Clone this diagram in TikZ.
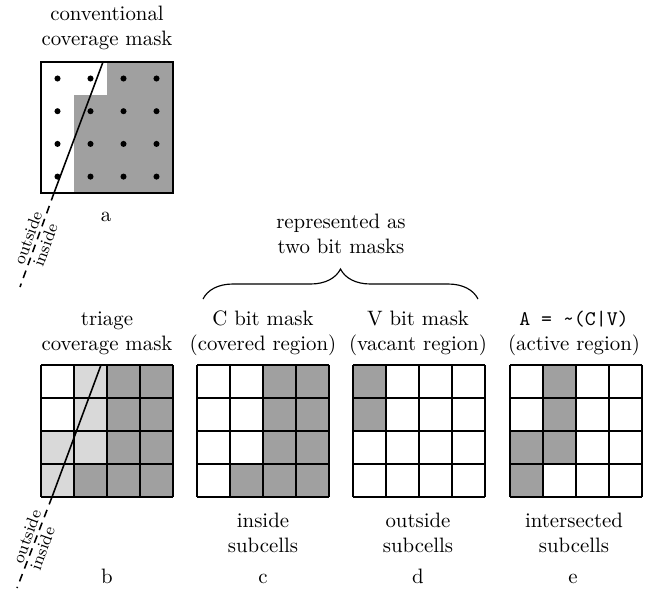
\documentclass[tikz,border=0pt]{standalone}
\usepackage{fontspec}
\usetikzlibrary{decorations.pathreplacing}
\definecolor{darkcell}{RGB}{160,160,160}
\definecolor{lightcell}{RGB}{217,217,217}
\tikzset{
  gridline/.style={line width=0.95pt},
  edgeline/.style={line width=0.75pt},
  edgedash/.style={line width=0.75pt, dash pattern=on 3.8pt off 2.8pt},
  lbl/.style={align=center, inner sep=0pt},
  sidelbl/.style={inner sep=1.5pt, rotate=70, font=\footnotesize},
  dot/.style={circle, fill=black, inner sep=0pt, minimum size=2.9pt},
}
\newcommand{\fillcells}[4]{% x0, y0, color, list of col/row
  \foreach \cc/\rr in {#4} {
    \fill[#3] ({#1+33*(\cc-1)},{#2+33*(\rr-1)}) rectangle ++(33,33);
  }
}
\newcommand{\drawgrid}[2]{%
  \foreach \k in {0,1,2,3,4} {
    \draw[gridline] ({#1+33*\k},#2) -- ({#1+33*\k},{#2+132});
    \draw[gridline] (#1,{#2+33*\k}) -- ({#1+132},{#2+33*\k});
  }
}
\begin{document}
\begin{tikzpicture}[x=0.48pt,y=-0.48pt]
\useasboundingbox (0,0) rectangle (650,590);

% ---------- a: conventional coverage mask ----------
\node[lbl] (ta) at (107,28) {conventional\\coverage mask};
\fill[darkcell] (74,193) -- (74,95) -- (107,95) -- (107,62) -- (173,62) -- (173,193) -- cycle;
\draw[gridline] (41,62) rectangle (173,193);
\foreach \i in {0,1,2,3} \foreach \j in {0,1,2,3}
  \node[dot] at ({57.5+33*\i},{78.5+32.7*\j}) {};
\coordinate (a1) at (103,62);
\coordinate (a2) at (54,193);
\coordinate (a3) at (20,287);
\draw[edgeline] (a1) -- (a2);
\draw[edgedash] (a2) -- (a3);
\path (a2) -- (a3) coordinate[pos=0.51] (am) coordinate[pos=0.52] (am2);
\node[sidelbl, anchor=south] (aout) at (am) {outside};
\node[sidelbl, anchor=north] (ain) at (am2) {inside};
\node[anchor=base] (la) at (106,221) {a};

% ---------- b: triage coverage mask ----------
\node[lbl] (tb) at (107,333) {triage\\coverage mask};
\fillcells{41}{365}{lightcell}{2/1,2/2,1/3,2/3,1/4}
\fillcells{41}{365}{darkcell}{3/1,4/1,3/2,4/2,3/3,4/3,2/4,3/4,4/4}
\drawgrid{41}{365}
\coordinate (b1) at (101,365);
\coordinate (b2) at (52,497);
\coordinate (b3) at (17,588);
\draw[edgeline] (b1) -- (b2);
\draw[edgedash] (b2) -- (b3);
\path (b2) -- (b3) coordinate[pos=0.47] (bm) coordinate[pos=0.53] (bm2);
\node[sidelbl, anchor=south] (bout) at (bm) {outside};
\node[sidelbl, anchor=north] (bin) at (bm2) {inside};
\node[anchor=base] (lb) at (107,583) {b};

% ---------- brace ----------
\node[lbl] (tr) at (341,234) {represented as\\two bit masks};
\coordinate (br1) at (203,299);
\coordinate (br2) at (478,299);
\draw[line width=0.55pt, decorate, decoration={brace, amplitude=14.4pt}] (br1) -- (br2);

% ---------- c ----------
\node[lbl] (tc) at (263,333) {C bit mask\\(covered region)};
\fillcells{197}{365}{darkcell}{3/1,4/1,3/2,4/2,3/3,4/3,2/4,3/4,4/4}
\drawgrid{197}{365}
\node[lbl] (bc) at (263,533) {inside\\subcells};
\node[anchor=base] (lc) at (263,583) {c};

% ---------- d ----------
\node[lbl] (td) at (418,333) {V bit mask\\(vacant region)};
\fillcells{353}{365}{darkcell}{1/1,1/2}
\drawgrid{353}{365}
\node[lbl] (bd) at (418,533) {outside\\subcells};
\node[anchor=base] (ld) at (418,583) {d};

% ---------- e ----------
\node[lbl] (te) at (574,333) {\texttt{A = \textasciitilde(C\textbar V)}\\(active region)};
\fillcells{510}{365}{darkcell}{2/1,2/2,1/3,2/3,1/4}
\drawgrid{510}{365}
\node[lbl] (be) at (574,533) {intersected\\subcells};
\node[anchor=base] (le) at (573,583) {e};
\end{tikzpicture}
\end{document}
